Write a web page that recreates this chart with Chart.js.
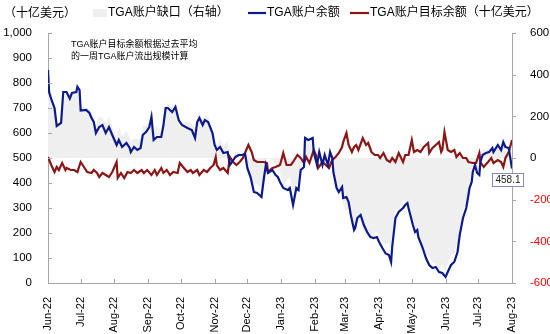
<!DOCTYPE html>
<html>
<head>
<meta charset="utf-8">
<script src="https://cdn.jsdelivr.net/npm/chart.js@4/dist/chart.umd.min.js"></script>
<style>
  html, body { margin: 0; padding: 0; background: #fff; }
  #wrap { width: 550px; height: 334px; position: relative; }
</style>
</head>
<body>
<div id="wrap"><canvas id="tgaChart" width="550" height="334"></canvas></div>
<script>
// ===== DỮ LIỆU (ngày tính từ 2022-06-01) =====
const monthDays = [0, 30, 61, 92, 122, 153, 183, 214, 245, 273, 304, 334, 365, 395, 426];
const monthLabels = ["Jun-22", "Jul-22", "Aug-22", "Sep-22", "Oct-22", "Nov-22", "Dec-22",
  "Jan-23", "Feb-23", "Mar-23", "Apr-23", "May-23", "Jun-23", "Jul-23", "Aug-23"];

const leftTicks = [0, 100, 200, 300, 400, 500, 600, 700, 800, 900, 1000];
const rightTicks = [-600, -400, -200, 0, 200, 400, 600];

// TGA账户余额 (left axis)
const balanceDays = [0, 1, 3, 6, 8, 12, 14, 17, 20, 22, 26, 27, 29, 30, 35, 38, 40, 42, 44, 47,
  50, 53, 56, 59, 63, 65, 68, 72, 75, 76, 79, 82, 85, 87, 90, 93, 95, 97, 100, 104,
  106, 108, 110, 114, 117, 120, 123, 128, 132, 135, 137, 139, 142, 144, 147, 151, 153, 155, 158, 161,
  165, 167, 169, 172, 175, 178, 181, 183, 186, 189, 192, 196, 198, 200, 202, 206, 209, 211, 213, 216,
  220, 222, 225, 228, 230, 232, 235, 236, 239, 243, 244, 247, 249, 252, 254, 257, 259, 261, 262, 265,
  267, 270, 271, 274, 276, 278, 281, 282, 284, 287, 290, 293, 296, 299, 302, 304, 307, 310, 313, 315,
  316, 319, 322, 326, 328, 330, 331, 335, 337, 339, 340, 344, 347, 350, 353, 356, 359, 362, 365, 367,
  370, 373, 376, 378, 381, 384, 386, 387, 389, 390, 392, 394, 396, 397, 399, 402, 405, 408, 409, 413,
  416, 418, 420, 423, 424, 426];
const balanceVals = [852, 764, 735, 700, 628, 640, 764, 764, 738, 760, 764, 785, 772, 690, 692, 680, 660, 644, 600, 624,
  632, 600, 624, 592, 552, 572, 544, 560, 540, 524, 544, 532, 540, 592, 604, 624, 664, 572, 584, 584,
  632, 700, 700, 684, 704, 652, 632, 620, 612, 580, 644, 660, 632, 652, 644, 600, 552, 532, 544, 520,
  524, 472, 484, 504, 512, 512, 516, 460, 424, 364, 360, 344, 412, 472, 440, 452, 432, 424, 404, 380,
  372, 380, 312, 380, 372, 452, 464, 580, 572, 580, 524, 472, 524, 472, 512, 472, 524, 500, 444, 380,
  364, 384, 340, 344, 324, 272, 212, 220, 260, 272, 232, 204, 184, 180, 184, 164, 140, 118, 112, 84,
  144, 260, 284, 300, 312, 320, 300, 232, 204, 212, 184, 140, 100, 72, 60, 64, 44, 40, 24, 44,
  72, 84, 124, 192, 260, 300, 352, 380, 404, 444, 472, 440, 432, 484, 512, 520, 524, 540, 524, 552,
  532, 564, 544, 540, 512, 458.1];

// TGA账户目标余额 (left axis)
const targetDays = [0, 3, 6, 8, 10, 13, 16, 17, 21, 24, 27, 30, 33, 36, 40, 42, 45, 47, 50, 53,
  56, 59, 63, 64, 67, 70, 73, 76, 79, 82, 86, 88, 91, 95, 98, 100, 104, 106, 109, 112,
  115, 119, 121, 124, 128, 131, 133, 137, 139, 143, 146, 149, 152, 154, 155, 158, 161, 165, 167, 170,
  173, 176, 179, 182, 184, 187, 189, 192, 195, 198, 201, 202, 206, 209, 213, 216, 219, 223, 225, 229,
  232, 235, 237, 240, 244, 246, 248, 252, 255, 258, 261, 264, 267, 270, 271, 274, 276, 279, 281, 283,
  285, 289, 292, 294, 297, 300, 303, 305, 308, 311, 314, 316, 319, 322, 326, 328, 331, 334, 336, 339,
  342, 345, 349, 350, 353, 356, 359, 361, 362, 364, 367, 370, 373, 375, 378, 381, 384, 386, 390, 393,
  396, 397, 400, 404, 407, 409, 413, 416, 418, 420, 423, 426];
const targetVals = [504, 472, 444, 464, 452, 480, 452, 460, 452, 452, 444, 484, 464, 444, 440, 452, 440, 424, 440, 432,
  424, 444, 484, 420, 440, 420, 444, 440, 452, 440, 452, 440, 452, 432, 452, 432, 460, 440, 452, 432,
  444, 440, 480, 464, 444, 452, 440, 452, 432, 452, 444, 460, 472, 504, 472, 452, 460, 440, 504, 484,
  472, 484, 500, 532, 552, 524, 492, 484, 484, 484, 480, 444, 460, 464, 472, 520, 472, 472, 484, 512,
  500, 480, 504, 480, 532, 512, 460, 484, 472, 460, 492, 504, 520, 544, 564, 600, 552, 524, 544, 552,
  532, 580, 552, 560, 524, 512, 512, 500, 520, 492, 484, 500, 484, 520, 484, 512, 512, 572, 524, 532,
  524, 544, 560, 520, 540, 552, 564, 524, 532, 604, 532, 524, 532, 504, 520, 500, 500, 484, 480, 480,
  520, 484, 464, 484, 500, 480, 492, 484, 464, 500, 524, 572];

// TGA账户缺口 (right axis)
const gapDays = [0, 3, 6, 8, 12, 14, 17, 20, 24, 27, 29, 31, 35, 38, 40, 42, 44, 47, 50, 53,
  56, 59, 63, 65, 68, 72, 75, 76, 79, 82, 85, 87, 90, 93, 95, 97, 100, 104, 106, 108,
  110, 114, 117, 120, 123, 128, 132, 135, 137, 139, 142, 144, 147, 151, 153, 155, 158, 161, 165, 167,
  169, 172, 175, 178, 181, 183, 186, 189, 192, 196, 198, 200, 202, 206, 209, 211, 213, 216, 220, 222,
  225, 228, 230, 232, 235, 236, 239, 243, 244, 247, 249, 252, 254, 257, 259, 261, 262, 265, 267, 270,
  271, 274, 276, 278, 281, 282, 284, 287, 290, 293, 296, 299, 302, 304, 307, 310, 313, 315, 316, 319,
  322, 326, 328, 330, 331, 335, 337, 339, 340, 344, 347, 350, 353, 356, 359, 362, 365, 367, 370, 373,
  376, 378, 381, 384, 386, 389, 390, 392, 394, 396, 397, 399, 402, 405, 408, 409, 413, 416, 418, 420,
  423, 426];
const gapVals = [348, 263, 256, 164, 162, 294, 304, 286, 312, 341, 302, 250, 240, 236, 220, 192, 154, 200, 192, 168,
  200, 148, 100, 152, 104, 130, 100, 82, 92, 92, 90, 152, 154, 179, 232, 127, 152, 124, 192, 250,
  260, 244, 262, 192, 166, 176, 167, 134, 192, 228, 182, 204, 199, 135, 62, 60, 92, 60, 84, -32,
  -6, 32, 28, 17, -14, -85, -106, -128, -124, -140, -72, -10, -4, -8, -32, -44, -68, -140, -100, -92,
  -172, -125, -133, -48, -16, 85, 87, 60, -8, -28, 54, -12, 34, 7, 54, 8, -51, -124, -156, -160,
  -224, -256, -240, -280, -350, -345, -300, -305, -360, -375, -380, -365, -355, -370, -400, -415, -405, -440, -380, -245,
  -255, -200, -215, -205, -225, -330, -345, -345, -370, -430, -475, -470, -500, -505, -535, -510, -545, -500, -465, -460,
  -400, -340, -250, -210, -140, -85, -40, -10, -45, -90, 0, 42, 40, 32, 45, 44, 60, 48, 100, 44,
  16, -60];

// ===== CẤU HÌNH CHUNG =====
const FONT = '"Liberation Sans", Arial, "Noto Sans CJK SC", sans-serif';
const AXIS_COLOR = "#A6A6A6";
const BLUE = "#0D1A8C";
const RED = "#8C1515";
const GAP_FILL = "#EFEFEF";

function toPoints(days, vals) {
  return days.map((d, i) => ({ x: d, y: vals[i] }));
}

// Vẽ chú thích, đơn vị, vạch chia, nhãn giá trị cuối
const extrasPlugin = {
  id: "extras",
  afterDraw(chart) {
    const c = chart.ctx;
    const area = chart.chartArea;
    const sx = chart.scales.x;
    const yL = chart.scales.yL;
    const yR = chart.scales.yR;

    c.save();
    // tick marks
    c.strokeStyle = AXIS_COLOR;
    c.lineWidth = 1;
    c.beginPath();
    leftTicks.forEach((v) => {
      const y = Math.round(yL.getPixelForValue(v)) + 0.5;
      c.moveTo(area.left, y);
      c.lineTo(area.left + 4, y);
    });
    rightTicks.forEach((v) => {
      const y = Math.round(yR.getPixelForValue(v)) + 0.5;
      c.moveTo(area.right, y);
      c.lineTo(area.right + 4, y);
    });
    monthDays.forEach((d) => {
      const x = Math.round(sx.getPixelForValue(d)) + 0.5;
      c.moveTo(x, area.bottom);
      c.lineTo(x, area.bottom - 4);
    });
    c.stroke();

    // unit label
    c.fillStyle = "#000";
    c.textBaseline = "middle";
    c.textAlign = "left";
    c.font = "12px " + FONT;
    c.fillText("（十亿美元）", 4, 14);

    // legend
    c.fillStyle = GAP_FILL;
    c.fillRect(93, 9, 14, 8);
    c.fillStyle = "#000";
    c.fillText("TGA账户缺口（右轴）", 108, 13);

    c.strokeStyle = BLUE;
    c.lineWidth = 2.2;
    c.beginPath();
    c.moveTo(248, 13);
    c.lineTo(266, 13);
    c.stroke();
    c.fillText("TGA账户余额", 267, 13);

    c.strokeStyle = RED;
    c.beginPath();
    c.moveTo(350, 13);
    c.lineTo(369, 13);
    c.stroke();
    c.fillText("TGA账户目标余额（十亿美元）", 370, 13);

    // annotation
    c.font = "9px " + FONT;
    c.fillText("TGA账户目标余额根据过去平均", 71, 45);
    c.fillText("的一周TGA账户流出规模计算", 71, 57);

    // last value label
    const lastIdx = balanceVals.length - 1;
    const px = sx.getPixelForValue(balanceDays[lastIdx]);
    const py = yL.getPixelForValue(balanceVals[lastIdx]);
    const txt = balanceVals[lastIdx].toFixed(1);
    c.font = "10px " + FONT;
    const w = c.measureText(txt).width + 6;
    const bx = Math.round(px - 4 - w / 2) + 0.5;
    const by = Math.round(py + 5) + 0.5;
    c.fillStyle = "#fff";
    c.fillRect(bx, by, w, 13);
    c.strokeStyle = "#8A8AB8";
    c.lineWidth = 1;
    c.strokeRect(bx, by, w, 13);
    c.fillStyle = "#222";
    c.textAlign = "center";
    c.fillText(txt, bx + w / 2, by + 7);
    c.restore();
  },
};

const ctx = document.getElementById("tgaChart").getContext("2d");
const myChart = new Chart(ctx, {
  type: "line",
  data: {
    datasets: [
      {
        label: "TGA账户余额",
        data: toPoints(balanceDays, balanceVals),
        borderColor: BLUE,
        borderWidth: 2.2,
        yAxisID: "yL",
        pointRadius: 0,
        tension: 0,
        fill: false,
        order: 1,
      },
      {
        label: "TGA账户目标余额",
        data: toPoints(targetDays, targetVals),
        borderColor: RED,
        borderWidth: 2.2,
        yAxisID: "yL",
        pointRadius: 0,
        tension: 0,
        fill: false,
        order: 2,
      },
      {
        label: "TGA账户缺口（右轴）",
        data: toPoints(gapDays, gapVals),
        borderWidth: 0,
        borderColor: "rgba(0,0,0,0)",
        backgroundColor: GAP_FILL,
        yAxisID: "yR",
        pointRadius: 0,
        tension: 0,
        fill: "origin",
        order: 3,
      },
    ],
  },
  options: {
    responsive: false,
    animation: false,
    devicePixelRatio: 1,
    layout: { padding: { top: 33, left: 0, right: 0, bottom: 0 } },
    plugins: {
      legend: { display: false },
      tooltip: { enabled: false },
    },
    scales: {
      x: {
        type: "linear",
        min: 0,
        max: 426,
        grid: { display: false },
        border: { display: true, color: AXIS_COLOR },
        afterBuildTicks: (scale) => {
          scale.ticks = monthDays.map((d) => ({ value: d }));
        },
        afterFit: (scale) => {
          scale.height = 51;
        },
        ticks: {
          autoSkip: false,
          minRotation: 90,
          maxRotation: 90,
          padding: 6,
          color: "#000",
          font: { family: FONT, size: 11 },
          callback: (v) => monthLabels[monthDays.indexOf(v)],
        },
      },
      yL: {
        position: "left",
        min: 0,
        max: 1000,
        grid: { display: false },
        border: { display: true, color: AXIS_COLOR },
        afterBuildTicks: (scale) => {
          scale.ticks = leftTicks.map((v) => ({ value: v }));
        },
        afterFit: (scale) => {
          scale.width = 48;
        },
        ticks: {
          padding: 8,
          color: "#000",
          font: { family: FONT, size: 11.5 },
          callback: (v) => v.toLocaleString("en-US"),
        },
      },
      yR: {
        position: "right",
        min: -600,
        max: 600,
        grid: { display: false },
        border: { display: true, color: AXIS_COLOR },
        afterBuildTicks: (scale) => {
          scale.ticks = rightTicks.map((v) => ({ value: v }));
        },
        afterFit: (scale) => {
          scale.width = 38;
        },
        ticks: {
          padding: 10,
          color: (c) => (c.tick && c.tick.value < 0 ? "#FF0000" : "#000"),
          font: { family: FONT, size: 11.5 },
        },
      },
    },
  },
  plugins: [extrasPlugin],
});
</script>
</body>
</html>
